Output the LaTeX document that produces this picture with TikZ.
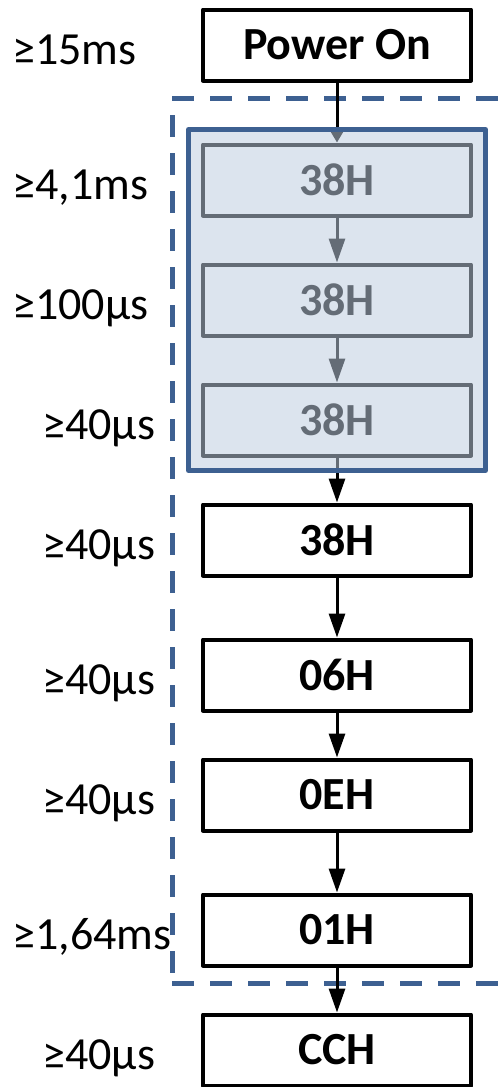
\documentclass[tikz,border=0pt]{standalone}
\usepackage{fontspec}
\setmainfont{Carlito}
\usetikzlibrary{arrows.meta,fit}

\definecolor{frameblue}{RGB}{61,96,145}
\definecolor{groupfill}{RGB}{189,204,223}

\begin{document}
\begin{tikzpicture}[x=0.5pt, y=-0.5pt]
  \tikzset{
    cmd/.style={draw=black, fill=white, line width=2pt, line join=round, minimum width=134pt, minimum height=35.5pt, inner sep=0pt, font=\fontsize{23}{26}\selectfont\bfseries},
    wait/.style={anchor=base west, inner sep=0pt, font=\fontsize{23}{26}\selectfont},
    nxt/.style={-{Triangle[length=12pt, width=8pt]}, line width=1.5pt},
    grp/.style={draw=frameblue, fill=groupfill, fill opacity=0.53, draw opacity=1, line width=2.5pt, line join=round, inner xsep=6.25pt, inner ysep=6.5pt},
    frame/.style={draw=frameblue, line width=2.5pt, dash pattern=on 11pt off 8pt},
  }

  \useasboundingbox (0,0) rectangle (498,1087);

  % delays
  \foreach \x/\y/\txt [count=\i] in {
    12/45/≥15ms,
    12/180/{≥4,1ms},
    12/300/≥100µs,
    42/420/≥40µs,
    42/540/≥40µs,
    42/675/≥40µs,
    42/795/≥40µs,
    12/930/{≥1,64ms},
    42/1050/≥40µs
  }{
    \node[wait] (t\i) at (\x,\y+19) {\txt};
  }

  % dashed frame, open on the right
  \draw[frame] (172,98) -- (520,98);
  \draw[frame] (172,115) -- (172,983);
  \draw[frame] (172,983) -- (520,983);

  % commands
  \foreach \n/\y/\txt in {
    pwr/45/Power On,
    a1/180/38H,
    a2/300/38H,
    a3/420/38H,
    b38/540/38H,
    b06/675/06H,
    b0e/795/0EH,
    b01/930/01H,
    bcc/1050/CCH
  }{
    \node[cmd] (\n) at (337,\y) {\txt};
  }

  \draw[nxt, -{Triangle[length=7.5pt, width=8.5pt]}] (pwr) -- (a1);
  \foreach \a/\b in {a1/a2, a2/a3, a3/b38, b38/b06, b06/b0e, b0e/b01, b01/bcc}
    \draw[nxt] (\a) -- (\b);

  % shaded group over the first three 38H
  \node[grp, fit=(a1)(a3)] (rep) {};
\end{tikzpicture}
\end{document}
